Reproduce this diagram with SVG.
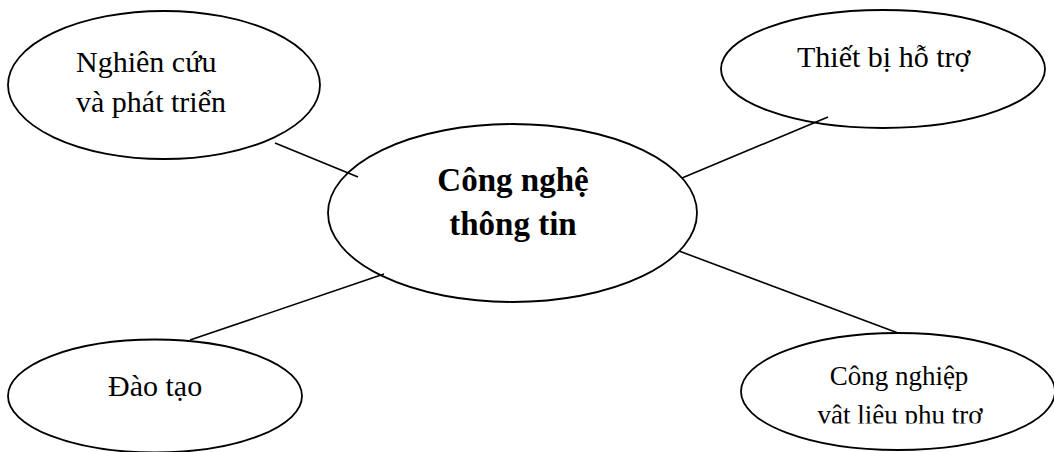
<svg xmlns="http://www.w3.org/2000/svg" width="1054" height="452" viewBox="0 0 1054 452">
  <style>
    .node { fill: #ffffff; stroke: #000000; stroke-width: 1.8; }
    .edge { stroke: #000000; stroke-width: 1.6; fill: none; }
    .label { font-family: "Liberation Serif", "Times New Roman", serif; font-size: 30px; fill: #000000; }
    .small { font-size: 27px; }
    .hub { font-family: "Liberation Serif", "Times New Roman", serif; font-size: 33px; font-weight: bold; fill: #000000; }
  </style>
  <defs>
    <clipPath id="cut-bottom">
      <rect x="700" y="300" width="354" height="123.5"/>
    </clipPath>
  </defs>

  <g id="research">
    <ellipse class="node" cx="164" cy="85" rx="156" ry="74"/>
    <text class="label" x="76" y="72">Nghiên cứu</text>
    <text class="label" x="76" y="112">và phát triển</text>
  </g>

  <g id="equipment">
    <ellipse class="node" cx="883" cy="69" rx="162" ry="59"/>
    <text class="label" x="797" y="67">Thiết bị hỗ trợ</text>
  </g>

  <g id="hub">
    <ellipse class="node" cx="512.5" cy="213" rx="184.5" ry="89"/>
    <text class="hub" x="513" y="191" text-anchor="middle">Công nghệ</text>
    <text class="hub" x="513" y="235" text-anchor="middle">thông tin</text>
  </g>

  <g id="training">
    <ellipse class="node" cx="155" cy="396" rx="147" ry="56.5"/>
    <text class="label" x="108" y="396">Đào tạo</text>
  </g>

  <g id="materials">
    <ellipse class="node" cx="898" cy="391.5" rx="157" ry="58.5"/>
    <text class="label small" x="899" y="385" text-anchor="middle">Công nghiệp</text>
    <text class="label small" x="900" y="424" text-anchor="middle" clip-path="url(#cut-bottom)">vật liệu phụ trợ</text>
  </g>

  <!-- spokes between the hub and the surrounding topics, drawn over the outlines -->
  <g id="connectors">
    <line class="edge" x1="275" y1="143" x2="358" y2="177"/>
    <line class="edge" x1="828" y1="117" x2="682" y2="178"/>
    <line class="edge" x1="190" y1="340" x2="384" y2="274"/>
    <line class="edge" x1="679" y1="251" x2="898" y2="333"/>
  </g>
</svg>
